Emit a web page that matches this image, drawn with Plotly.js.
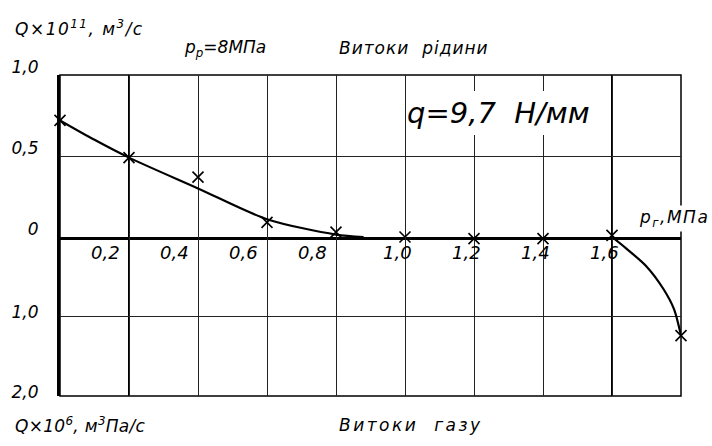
<!DOCTYPE html>
<html>
<head>
<meta charset="utf-8">
<script src="https://cdn.plot.ly/plotly-3.0.1.min.js"></script>
<style>
  html, body { margin: 0; padding: 0; background: #fff; }
  #chart { width: 712px; height: 446px; }
</style>
</head>
<body>
<div id="chart"></div>
<script>
// measured points, liquid leakage (upper half, Q x 10^11 m3/s)
const liquidP = [0, 0.2, 0.4, 0.6, 0.8, 1.0, 1.6];
const liquidQ = [0.72, 0.49, 0.37, 0.09, 0.03, 0, 0.01];
// drawn curve through the liquid points
const liquidCurveP = [0, 0.1, 0.2, 0.4, 0.6, 0.8, 0.88];
const liquidCurveQ = [0.72, 0.6, 0.49, 0.3, 0.11, 0.015, 0];

// measured points, gas leakage (lower half, Q x 10^6 m3Pa/s)
const gasP = [1.2, 1.4, 1.8];
const gasQ = [0.02, 0.02, 1.24];
// drawn curve through the gas points
const gasCurveP = [1.6, 1.64, 1.7, 1.75, 1.78, 1.8];
const gasCurveQ = [0, 0.14, 0.37, 0.66, 0.91, 1.24];

// tick labels
const xTickVals = [0.2, 0.4, 0.6, 0.8, 1.0, 1.2, 1.4, 1.6];
const xTickText = ['0,2', '0,4', '0,6', '0,8', '1,0', '1,2', '1,4', '1,6'];
const yTopVals = [0, 0.5, 1.0];
const yTopText = ['0', '0,5', '1,0'];
const yBottomVals = [1.0, 2.0];
const yBottomText = ['1,0', '2,0'];

const FONT = 'DejaVu Sans, sans-serif';
const INK = '#000';
const GRID = '#222';

function txt(size, weight) {
  return { family: FONT, size: size, color: INK, style: 'italic', weight: weight || 'normal' };
}

function spaced(s, px) {
  return '<span style="letter-spacing:' + px + 'px">' + s + '</span>';
}

const traces = [
  {
    x: liquidCurveP, y: liquidCurveQ, xaxis: 'x', yaxis: 'y',
    type: 'scatter', mode: 'lines',
    line: { color: INK, width: 2.2, shape: 'spline', smoothing: 0.8 },
    hoverinfo: 'skip',
  },
  {
    x: gasCurveP, y: gasCurveQ, xaxis: 'x2', yaxis: 'y2',
    type: 'scatter', mode: 'lines',
    line: { color: INK, width: 2.2, shape: 'spline', smoothing: 0.8 },
    hoverinfo: 'skip',
  },
  {
    x: liquidP, y: liquidQ, xaxis: 'x', yaxis: 'y',
    type: 'scatter', mode: 'markers', cliponaxis: false,
    marker: { symbol: 'x-thin', size: 11, line: { color: INK, width: 1.6 } },
  },
  {
    x: gasP, y: gasQ, xaxis: 'x2', yaxis: 'y2',
    type: 'scatter', mode: 'markers', cliponaxis: false,
    marker: { symbol: 'x-thin', size: 11, line: { color: INK, width: 1.6 } },
  },
];

const split = 0.4953;

const annotations = xTickVals.map((v, i) => ({
  xref: 'x', yref: 'paper', x: v, y: split,
  xanchor: 'center', yanchor: 'top', yshift: -3,
  xshift: v < 1 ? -24 : -8,
  text: xTickText[i], showarrow: false, font: txt(18),
}));

annotations.push(
  { xref: 'paper', yref: 'paper', x: -0.0757, y: 1.146, xanchor: 'left', yanchor: 'middle',
    text: spaced('Q×10<sup>11</sup>, м<sup>3</sup>/с', 1.5), showarrow: false, font: txt(17) },
  { xref: 'paper', yref: 'paper', x: 0.196, y: 1.084, xanchor: 'left', yanchor: 'middle',
    text: 'p<sub>р</sub>=8МПа', showarrow: false, font: txt(17) },
  { xref: 'paper', yref: 'paper', x: 0.446, y: 1.084, xanchor: 'left', yanchor: 'middle',
    text: spaced('Витоки  рідини', 1), showarrow: false, font: txt(17) },
  { xref: 'x', yref: 'paper', x: 1.0, y: 0.8816, xanchor: 'left', yanchor: 'middle', xshift: 1.5,
    width: 202, height: 44, align: 'left', bgcolor: '#fff', borderpad: 0, borderwidth: 0,
    text: 'q=9,7  Н/мм', showarrow: false, font: txt(29, 200) },
  { xref: 'paper', yref: 'paper', x: 0.929, y: 0.553, xanchor: 'left', yanchor: 'middle',
    bgcolor: '#fff', borderpad: 1,
    text: spaced('p<sub>г</sub>,МПа', 1.5), showarrow: false, font: txt(17) },
  { xref: 'paper', yref: 'paper', x: -0.0757, y: -0.09, xanchor: 'left', yanchor: 'middle',
    text: spaced('Q×10<sup>6</sup>, м<sup>3</sup>Па/с', 0.3), showarrow: false, font: txt(17) },
  { xref: 'paper', yref: 'paper', x: 0.446, y: -0.09, xanchor: 'left', yanchor: 'middle',
    text: spaced('Витоки  газу', 2.5), showarrow: false, font: txt(17) }
);

const layout = {
  width: 712,
  height: 446,
  paper_bgcolor: '#fff',
  plot_bgcolor: '#fff',
  margin: { l: 60, r: 31, t: 75, b: 50 },
  showlegend: false,
  font: txt(17),
  xaxis: {
    domain: [0, 1], anchor: 'y', range: [0, 1.8],
    tickmode: 'linear', tick0: 0, dtick: 0.2,
    showticklabels: false, ticks: '',
    showgrid: true, gridcolor: GRID, gridwidth: 1,
    zeroline: false, showline: true, linecolor: INK, linewidth: 3,
  },
  xaxis2: {
    domain: [0, 1], anchor: 'y2', matches: 'x', range: [0, 1.8],
    tickmode: 'linear', tick0: 0, dtick: 0.2,
    showticklabels: false, ticks: '',
    showgrid: true, gridcolor: GRID, gridwidth: 1,
    zeroline: false, showline: false,
  },
  yaxis: {
    domain: [split, 1], anchor: 'x', range: [0, 1],
    tickvals: yTopVals, ticktext: yTopText, ticks: '',
    ticklabelstandoff: 15, ticklabelshift: -8,
    tickfont: txt(17),
    showgrid: true, gridcolor: GRID, gridwidth: 1,
    zeroline: false, showline: true, linecolor: INK, linewidth: 3,
  },
  yaxis2: {
    domain: [0, split], anchor: 'x2', range: [2, 0],
    tickvals: yBottomVals, ticktext: yBottomText, ticks: '',
    ticklabelstandoff: 15, ticklabelshift: 4,
    tickfont: txt(17),
    showgrid: true, gridcolor: GRID, gridwidth: 1,
    zeroline: false, showline: true, linecolor: INK, linewidth: 3,
  },
  shapes: [
    { type: 'rect', xref: 'paper', yref: 'paper', x0: 0, x1: 1, y0: 0, y1: 1,
      line: { color: INK, width: 1.5 }, layer: 'below' },
    { type: 'line', xref: 'x', yref: 'paper', x0: 0.2, x1: 0.2, y0: 0, y1: 1,
      line: { color: INK, width: 2 }, layer: 'below' },
    { type: 'line', xref: 'x', yref: 'paper', x0: 1.6, x1: 1.6, y0: 0, y1: 1,
      line: { color: INK, width: 2 }, layer: 'below' },
  ],
  annotations: annotations,
};

Plotly.newPlot('chart', traces, layout, { displayModeBar: false, staticPlot: true });
</script>
</body>
</html>
